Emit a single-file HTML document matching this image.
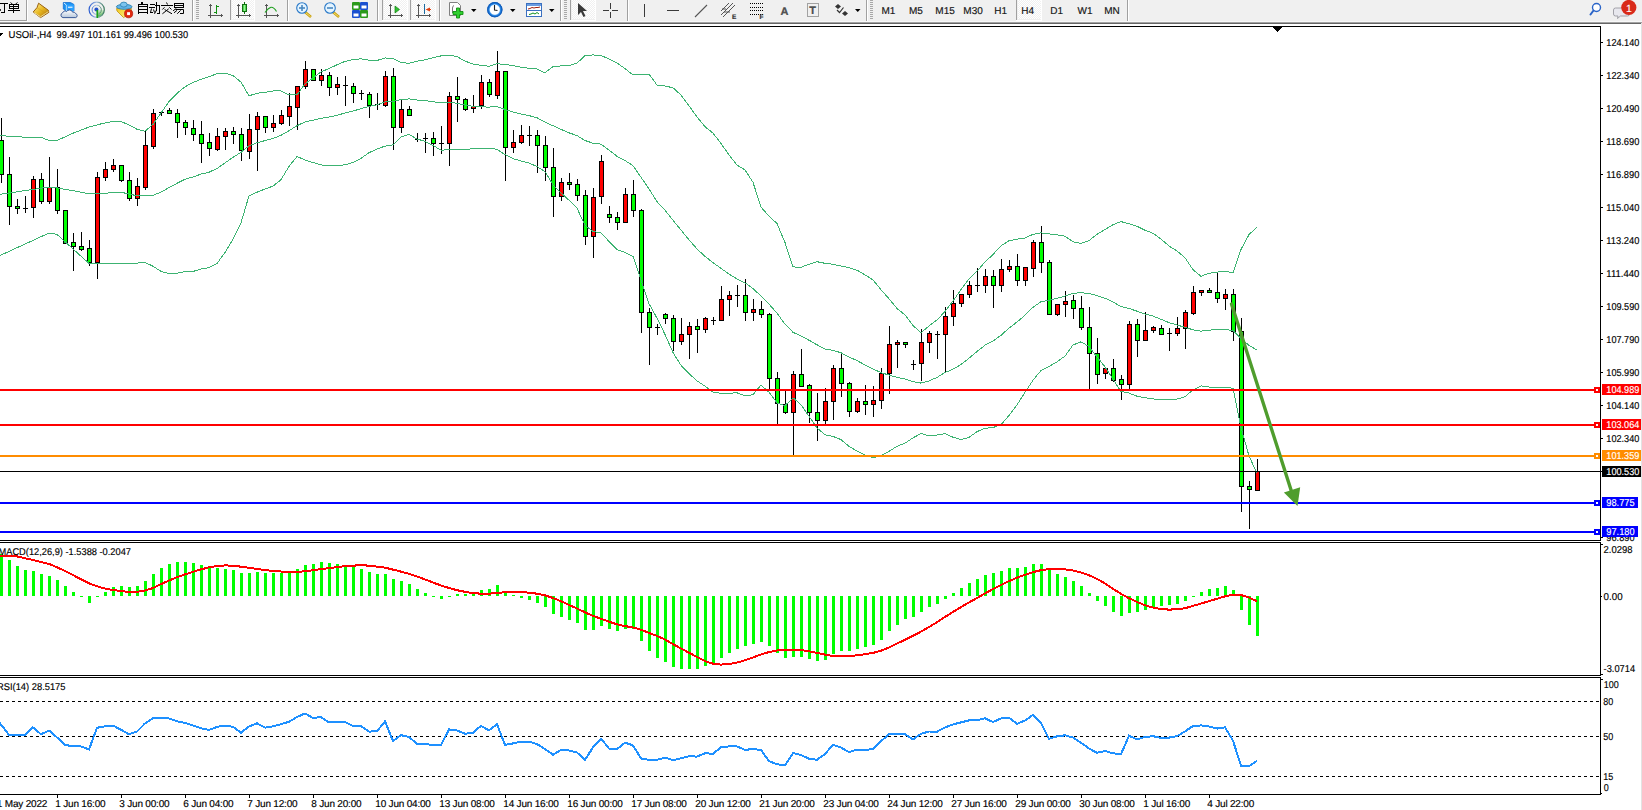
<!DOCTYPE html>
<html><head><meta charset="utf-8"><title>USOil H4</title>
<style>
html,body{margin:0;padding:0;background:#fff;}
body{width:1642px;height:810px;overflow:hidden;position:relative;font-family:"Liberation Sans", sans-serif;}
#tb{position:absolute;left:0;top:0;width:1642px;height:24px;}
#ch{position:absolute;left:0;top:0;}
text{text-rendering:geometricPrecision;stroke:#000;stroke-width:0.15;}
text[fill="#fff"]{stroke:#fff;}
</style></head><body>
<svg id="ch" width="1642" height="810" viewBox="0 0 1642 810">
<defs><pattern id="chk" width="2" height="2" patternUnits="userSpaceOnUse"><rect width="2" height="2" fill="#f0f0f0"/><rect width="1" height="1" fill="#fff"/><rect x="1" y="1" width="1" height="1" fill="#fff"/></pattern><linearGradient id="gold" x1="0" y1="0" x2="1" y2="1"><stop offset="0" stop-color="#fff2a0"/><stop offset="0.5" stop-color="#e8b820"/><stop offset="1" stop-color="#a86a10"/></linearGradient><linearGradient id="blu" x1="0" y1="0" x2="0" y2="1"><stop offset="0" stop-color="#4fb4ff"/><stop offset="1" stop-color="#0a6fd8"/></linearGradient><linearGradient id="cld" x1="0" y1="0" x2="0" y2="1"><stop offset="0" stop-color="#ffffff"/><stop offset="1" stop-color="#b8c8dc"/></linearGradient><radialGradient id="clk" cx="0.5" cy="0.5" r="0.5"><stop offset="0.6" stop-color="#ffffff"/><stop offset="0.75" stop-color="#2a8ae8"/><stop offset="1" stop-color="#0a50b0"/></radialGradient><linearGradient id="grn" x1="0" y1="0" x2="1" y2="0"><stop offset="0" stop-color="#1fa01f"/><stop offset="0.5" stop-color="#8dff8d"/><stop offset="1" stop-color="#1fa01f"/></linearGradient></defs>
<g shape-rendering="crispEdges">
<rect x="0" y="0" width="1642" height="21" fill="#f0f0f0"/>
<rect x="0" y="21" width="1642" height="1" fill="#f8f8f8"/>
<rect x="0" y="22" width="1642" height="1" fill="#a3a3a3"/>
<rect x="0" y="23" width="1642" height="1" fill="#666666"/>
<rect x="192" y="0" width="1" height="21" fill="#a0a0a0"/>
<rect x="193" y="0" width="1" height="21" fill="#ffffff"/>
<rect x="287" y="0" width="1" height="21" fill="#a0a0a0"/>
<rect x="288" y="0" width="1" height="21" fill="#ffffff"/>
<rect x="377" y="0" width="1" height="21" fill="#a0a0a0"/>
<rect x="378" y="0" width="1" height="21" fill="#ffffff"/>
<rect x="439" y="0" width="1" height="21" fill="#a0a0a0"/>
<rect x="440" y="0" width="1" height="21" fill="#ffffff"/>
<rect x="560" y="0" width="1" height="21" fill="#a0a0a0"/>
<rect x="561" y="0" width="1" height="21" fill="#ffffff"/>
<rect x="627" y="0" width="1" height="21" fill="#a0a0a0"/>
<rect x="628" y="0" width="1" height="21" fill="#ffffff"/>
<rect x="866" y="0" width="1" height="21" fill="#a0a0a0"/>
<rect x="867" y="0" width="1" height="21" fill="#ffffff"/>
<rect x="1127" y="0" width="1" height="21" fill="#a0a0a0"/>
<rect x="1128" y="0" width="1" height="21" fill="#ffffff"/>
<rect x="196" y="0" width="3" height="1" fill="#a8a8a8"/>
<rect x="196" y="2" width="3" height="1" fill="#a8a8a8"/>
<rect x="196" y="4" width="3" height="1" fill="#a8a8a8"/>
<rect x="196" y="6" width="3" height="1" fill="#a8a8a8"/>
<rect x="196" y="8" width="3" height="1" fill="#a8a8a8"/>
<rect x="196" y="10" width="3" height="1" fill="#a8a8a8"/>
<rect x="196" y="12" width="3" height="1" fill="#a8a8a8"/>
<rect x="196" y="14" width="3" height="1" fill="#a8a8a8"/>
<rect x="196" y="16" width="3" height="1" fill="#a8a8a8"/>
<rect x="196" y="18" width="3" height="1" fill="#a8a8a8"/>
<rect x="564" y="0" width="3" height="1" fill="#a8a8a8"/>
<rect x="564" y="2" width="3" height="1" fill="#a8a8a8"/>
<rect x="564" y="4" width="3" height="1" fill="#a8a8a8"/>
<rect x="564" y="6" width="3" height="1" fill="#a8a8a8"/>
<rect x="564" y="8" width="3" height="1" fill="#a8a8a8"/>
<rect x="564" y="10" width="3" height="1" fill="#a8a8a8"/>
<rect x="564" y="12" width="3" height="1" fill="#a8a8a8"/>
<rect x="564" y="14" width="3" height="1" fill="#a8a8a8"/>
<rect x="564" y="16" width="3" height="1" fill="#a8a8a8"/>
<rect x="564" y="18" width="3" height="1" fill="#a8a8a8"/>
<rect x="870" y="0" width="3" height="1" fill="#a8a8a8"/>
<rect x="870" y="2" width="3" height="1" fill="#a8a8a8"/>
<rect x="870" y="4" width="3" height="1" fill="#a8a8a8"/>
<rect x="870" y="6" width="3" height="1" fill="#a8a8a8"/>
<rect x="870" y="8" width="3" height="1" fill="#a8a8a8"/>
<rect x="870" y="10" width="3" height="1" fill="#a8a8a8"/>
<rect x="870" y="12" width="3" height="1" fill="#a8a8a8"/>
<rect x="870" y="14" width="3" height="1" fill="#a8a8a8"/>
<rect x="870" y="16" width="3" height="1" fill="#a8a8a8"/>
<rect x="870" y="18" width="3" height="1" fill="#a8a8a8"/>
<rect x="26" y="0" width="1" height="21" fill="#a0a0a0"/>
<rect x="0" y="20" width="27" height="1" fill="#a0a0a0"/>
<rect x="27" y="0" width="1" height="21" fill="#ffffff"/>
<rect x="230" y="0" width="1" height="20" fill="#a0a0a0"/>
<rect x="232" y="0" width="22" height="19" fill="url(#chk)"/>
<rect x="254" y="0" width="1" height="21" fill="#ffffff"/>
<rect x="230" y="20" width="25" height="1" fill="#ffffff"/>
<rect x="382" y="0" width="1" height="20" fill="#a0a0a0"/>
<rect x="384" y="0" width="23" height="19" fill="url(#chk)"/>
<rect x="407" y="0" width="1" height="21" fill="#ffffff"/>
<rect x="382" y="20" width="26" height="1" fill="#ffffff"/>
<rect x="410" y="0" width="1" height="20" fill="#a0a0a0"/>
<rect x="412" y="0" width="23" height="19" fill="url(#chk)"/>
<rect x="435" y="0" width="1" height="21" fill="#ffffff"/>
<rect x="410" y="20" width="26" height="1" fill="#ffffff"/>
<rect x="570" y="0" width="1" height="20" fill="#a0a0a0"/>
<rect x="572" y="0" width="23" height="19" fill="url(#chk)"/>
<rect x="595" y="0" width="1" height="21" fill="#ffffff"/>
<rect x="570" y="20" width="26" height="1" fill="#ffffff"/>
<rect x="1016" y="0" width="1" height="20" fill="#a0a0a0"/>
<rect x="1018" y="0" width="23" height="19" fill="url(#chk)"/>
<rect x="1041" y="0" width="1" height="21" fill="#ffffff"/>
<rect x="1016" y="20" width="26" height="1" fill="#ffffff"/>
<rect x="0" y="3" width="8" height="1" fill="#000"/>
<rect x="4" y="4" width="1" height="9" fill="#000"/>
<rect x="1" y="12" width="4" height="1" fill="#000"/>
<rect x="0" y="9" width="1" height="2" fill="#333"/>
<rect x="9" y="4" width="10" height="1" fill="#000"/>
<rect x="9" y="6" width="10" height="1" fill="#000"/>
<rect x="9" y="8" width="10" height="1" fill="#000"/>
<rect x="9" y="4" width="1" height="5" fill="#000"/>
<rect x="18" y="4" width="1" height="5" fill="#000"/>
<rect x="13" y="4" width="1" height="9" fill="#000"/>
<rect x="8" y="10" width="12" height="1" fill="#000"/>
</g>
<g stroke="#000" stroke-width="1" fill="none"><line x1="10.6" y1="2.4" x2="12.2" y2="4"/><line x1="17.4" y1="2.4" x2="15.8" y2="4"/></g>
<g shape-rendering="crispEdges">
<rect x="141" y="2" width="2" height="2" fill="#000"/>
<rect x="138" y="4" width="1" height="10" fill="#000"/>
<rect x="147" y="4" width="1" height="10" fill="#000"/>
<rect x="138" y="4" width="10" height="1" fill="#000"/>
<rect x="138" y="6" width="10" height="1" fill="#000"/>
<rect x="138" y="9" width="10" height="1" fill="#000"/>
<rect x="138" y="12" width="10" height="1" fill="#000"/>
<rect x="150" y="4" width="5" height="1" fill="#000"/>
<rect x="149" y="7" width="6" height="1" fill="#000"/>
<rect x="150" y="12" width="3" height="1" fill="#000"/>
<rect x="156" y="2" width="1" height="9" fill="#000"/>
<rect x="155" y="5" width="5" height="1" fill="#000"/>
<rect x="159" y="5" width="1" height="8" fill="#000"/>
<rect x="157" y="13" width="3" height="1" fill="#000"/>
</g>
<g stroke="#000" stroke-width="1.25" fill="none">
<line x1="151.5" y1="8.5" x2="150.5" y2="12.5" stroke="#000" stroke-width="1" />
<line x1="153.5" y1="9.5" x2="154.5" y2="12.5" stroke="#000" stroke-width="1" />
<line x1="156.5" y1="10" x2="154.5" y2="13.8" stroke="#000" stroke-width="1" />
<line x1="166.5" y1="2.5" x2="167.5" y2="4.5" stroke="#000" stroke-width="1" />
<line x1="161" y1="5.5" x2="173" y2="5.5" stroke="#000" stroke-width="1" />
<line x1="164.5" y1="7.3" x2="162.4" y2="9.5" stroke="#000" stroke-width="1" />
<line x1="169.3" y1="7.3" x2="171.5" y2="9.5" stroke="#000" stroke-width="1" />
<line x1="168.7" y1="8.8" x2="162.4" y2="13.8" stroke="#000" stroke-width="1" />
<line x1="164.6" y1="9.5" x2="172" y2="13.8" stroke="#000" stroke-width="1" />
<line x1="174.5" y1="3" x2="174.5" y2="8" stroke="#000" stroke-width="1" />
<line x1="183.5" y1="3" x2="183.5" y2="8" stroke="#000" stroke-width="1" />
<line x1="174.5" y1="3.5" x2="183.5" y2="3.5" stroke="#000" stroke-width="1" />
<line x1="174.5" y1="5.5" x2="183.5" y2="5.5" stroke="#000" stroke-width="1" />
<line x1="174.5" y1="7.5" x2="183.5" y2="7.5" stroke="#000" stroke-width="1" />
<line x1="175.5" y1="9.5" x2="183.5" y2="9.5" stroke="#000" stroke-width="1" />
<line x1="183.5" y1="9.5" x2="183.5" y2="13.5" stroke="#000" stroke-width="1" />
<line x1="180" y1="13.5" x2="183.5" y2="13.5" stroke="#000" stroke-width="1" />
<line x1="176.3" y1="8.4" x2="173.1" y2="10.8" stroke="#000" stroke-width="1" />
<line x1="177" y1="10.4" x2="174" y2="12.8" stroke="#000" stroke-width="1" />
<line x1="180.6" y1="10.4" x2="177.2" y2="13.8" stroke="#000" stroke-width="1" />
</g>
<polygon points="38.6,3.2 48.4,10.3 48.8,12.4 40.6,17.6 33.2,12 37,7.6" fill="url(#gold)" stroke="#9a6210" stroke-width="1"/>
<polyline points="34.2,12.6 40.6,16.8 48.4,11.6" fill="none" stroke="#f2e2a0" stroke-width="0.9"/>
<line x1="37" y1="7.6" x2="46.5" y2="13.8" stroke="#c89018" stroke-width="0.6" opacity="0.6"/>
<polygon points="63.3,2.5 70.5,2.5 74,4.5 74,11 66,11 63.3,9" fill="#1890f0" stroke="#1a70d0" stroke-width="0.8"/>
<polygon points="66,4.5 74,4.5 74,11 66,11" fill="#2aa0ff"/><line x1="64" y1="3" x2="66.3" y2="5" stroke="#e8f4ff" stroke-width="0.9"/><line x1="66.3" y1="5" x2="66.3" y2="11" stroke="#e8f4ff" stroke-width="0.7"/>
<rect x="68" y="6.6" width="4.5" height="1.3" fill="#d8eeff"/>
<path d="M63,17.6 A2.5,2.5 0 0 1 62.6,12.8 A2.6,2.6 0 0 1 66.6,11.6 A3.3,3.3 0 0 1 72.6,12.2 A2.4,2.4 0 0 1 75.6,13.6 A2.1,2.1 0 0 1 75.8,17.6 Z" fill="url(#cld)" stroke="#3a5a98" stroke-width="1"/>
<defs><linearGradient id="rg" x1="0" y1="0" x2="1" y2="0"><stop offset="0" stop-color="#2a5cd0"/><stop offset="0.5" stop-color="#a8c0e0"/><stop offset="1" stop-color="#3a7a5a"/></linearGradient><linearGradient id="sg" x1="0" y1="0" x2="0" y2="1"><stop offset="0" stop-color="#d8ecd0"/><stop offset="1" stop-color="#38a838"/></linearGradient></defs>
<path d="M96.7,9.8 L96.7,17.8 A8,8 0 0 0 104.7,9.8 Z" fill="url(#sg)"/>
<circle cx="96.7" cy="9.8" r="7.6" fill="none" stroke="url(#rg)" stroke-width="1.2"/>
<circle cx="96.7" cy="9.8" r="4.6" fill="none" stroke="url(#rg)" stroke-width="1" opacity="0.8"/>
<circle cx="96.4" cy="9.6" r="2" fill="#2050c8"/><rect x="96.5" y="10" width="1.6" height="8" fill="#18a018"/>
<defs><linearGradient id="yb" x1="0" y1="0" x2="1" y2="1"><stop offset="0" stop-color="#f0c820"/><stop offset="1" stop-color="#fff890"/></linearGradient></defs>
<polygon points="116.6,8.4 131.4,8.4 131,12 123.6,17.6 117,11" fill="url(#yb)" stroke="#c89a18" stroke-width="0.9"/>
<ellipse cx="124.2" cy="6.8" rx="7.8" ry="2.5" fill="#62b4e8" stroke="#2a80b0" stroke-width="0.9"/>
<ellipse cx="123.8" cy="4.6" rx="3.4" ry="2.5" fill="#7cc4ee" stroke="#2a80b0" stroke-width="0.8"/>
<circle cx="128.6" cy="13.7" r="4.1" fill="#e02a10" stroke="#b01808" stroke-width="0.7"/><rect x="127.1" y="12.2" width="2.9" height="2.9" fill="#fff"/>
<g fill="#555" shape-rendering="crispEdges"><rect x="210" y="4" width="1" height="14"/><rect x="208" y="15" width="15" height="1"/><rect x="209" y="5" width="3" height="1"/><rect x="221" y="14" width="1" height="3"/></g>
<g fill="#555" shape-rendering="crispEdges"><rect x="238" y="4" width="1" height="14"/><rect x="236" y="15" width="15" height="1"/><rect x="237" y="5" width="3" height="1"/><rect x="249" y="14" width="1" height="3"/></g>
<g fill="#555" shape-rendering="crispEdges"><rect x="266" y="4" width="1" height="14"/><rect x="264" y="15" width="15" height="1"/><rect x="265" y="5" width="3" height="1"/><rect x="277" y="14" width="1" height="3"/></g>
<g fill="#555" shape-rendering="crispEdges"><rect x="390" y="4" width="1" height="14"/><rect x="388" y="15" width="15" height="1"/><rect x="389" y="5" width="3" height="1"/><rect x="401" y="14" width="1" height="3"/></g>
<g fill="#555" shape-rendering="crispEdges"><rect x="418" y="4" width="1" height="14"/><rect x="416" y="15" width="15" height="1"/><rect x="417" y="5" width="3" height="1"/><rect x="429" y="14" width="1" height="3"/></g>
<g fill="#109010" shape-rendering="crispEdges"><rect x="216" y="5" width="1" height="9"/><rect x="217" y="6" width="2" height="1"/><rect x="214" y="12" width="2" height="1"/></g>
<rect x="244" y="2" width="1" height="12" fill="#107010" shape-rendering="crispEdges"/><rect x="242.5" y="4.5" width="4" height="7" fill="url(#grn)" stroke="#107010" stroke-width="1"/>
<path d="M265,12.5 Q268,8 271,7.2 Q274,7 276.5,11.5" fill="none" stroke="#20a020" stroke-width="1.1"/>
<polygon points="395,6 399.5,9.5 395,13" fill="#30c030" stroke="#108010" stroke-width="0.7"/>
<rect x="424" y="4" width="1" height="10" fill="#1a6aa0"/><polygon points="425.5,9.5 430,7.5 430,11.5" fill="#e04010"/><rect x="427" y="9" width="4" height="1" fill="#e04010"/>
<line x1="305" y1="12" x2="311" y2="17" stroke="#c8a010" stroke-width="2.6"/>
<line x1="305.5" y1="12.5" x2="310.5" y2="16.6" stroke="#f4e070" stroke-width="1"/>
<circle cx="302" cy="8" r="5.3" fill="#e4f4ff" stroke="#2878c8" stroke-width="1.1"/>
<rect x="299" y="7.2" width="6" height="1.6" fill="#4a88c0"/>
<rect x="301.2" y="5" width="1.6" height="6" fill="#4a88c0"/>
<line x1="333" y1="12" x2="339" y2="17" stroke="#c8a010" stroke-width="2.6"/>
<line x1="333.5" y1="12.5" x2="338.5" y2="16.6" stroke="#f4e070" stroke-width="1"/>
<circle cx="330" cy="8" r="5.3" fill="#e4f4ff" stroke="#2878c8" stroke-width="1.1"/>
<rect x="327" y="7.2" width="6" height="1.6" fill="#4a88c0"/>
<rect x="352" y="2" width="8" height="8" fill="#2a9a1a" rx="1"/><rect x="353.5" y="5.5" width="5" height="3" fill="#fff"/>
<rect x="360" y="2" width="8" height="8" fill="#1a50d0" rx="1"/><rect x="361.5" y="5.5" width="5" height="3" fill="#fff"/>
<rect x="352" y="10" width="8" height="8" fill="#1a50d0" rx="1"/><rect x="353.5" y="13.5" width="5" height="3" fill="#fff"/>
<rect x="360" y="10" width="8" height="8" fill="#2a9a1a" rx="1"/><rect x="361.5" y="13.5" width="5" height="3" fill="#fff"/>
<path d="M449.5,2.5 L457.5,2.5 L460.5,5.5 L460.5,15.5 L449.5,15.5 Z" fill="#fff" stroke="#808080" stroke-width="1"/>
<path d="M454,5.5 Q452.5,6 452.5,8 L452.5,13" fill="none" stroke="#555" stroke-width="0.8"/>
<path d="M456.5,8 h3 v3.5 h3.5 v3 h-3.5 v3.5 h-3 v-3.5 h-3.5 v-3 h3.5 z" fill="#30d030" stroke="#109010" stroke-width="0.9"/>
<polygon points="471,9 476.5,9 473.75,12" fill="#000"/>
<polygon points="510,9 515.5,9 512.75,12" fill="#000"/>
<polygon points="549,9 554.5,9 551.75,12" fill="#000"/>
<polygon points="855,9 860.5,9 857.75,12" fill="#000"/>
<circle cx="494.8" cy="9.7" r="7.6" fill="url(#clk)"/><circle cx="494.8" cy="9.7" r="7.2" fill="none" stroke="#1060c0" stroke-width="1"/>
<path d="M494.5,5 L494.5,10 L497.5,10.5" fill="none" stroke="#222" stroke-width="1.1"/>
<rect x="526.5" y="3.5" width="15" height="13" fill="#fff" stroke="#3a70c0" stroke-width="1"/><rect x="527" y="4" width="14" height="2" fill="#6a9ce0"/><rect x="527" y="10" width="14" height="1" fill="#3a70c0"/>
<polyline points="528,9 530,8.5 532,7.5 534,8 536,7.5 538,7.5 540,7" fill="none" stroke="#a02010" stroke-width="1"/>
<polyline points="529,14.5 531,14 533,13 535,14 537,12.5 539,14" fill="none" stroke="#10901a" stroke-width="1"/>
<path d="M578,3 L578,15 L581,12 L583.5,17 L585.5,16 L583,11 L587,11 Z" fill="#3a3a3a"/>
<g fill="#3a3a3a" shape-rendering="crispEdges"><rect x="603" y="10" width="6" height="1"/><rect x="612" y="10" width="6" height="1"/><rect x="610" y="3" width="1" height="6"/><rect x="610" y="12" width="1" height="6"/><rect x="644" y="4" width="1" height="13"/><rect x="667" y="10" width="12" height="1"/></g>
<line x1="695" y1="17" x2="707" y2="5" stroke="#555" stroke-width="1.1"/>
<g stroke="#555" stroke-width="1"><line x1="721" y1="15" x2="733" y2="3"/><line x1="723" y1="17" x2="735" y2="5"/><line x1="721" y1="11" x2="729" y2="3"/><line x1="722" y1="9" x2="726" y2="9"/><line x1="724" y1="12" x2="730" y2="12"/></g>
<text x="732" y="19" font-family='"Liberation Sans", sans-serif' font-size="6.5" font-weight="bold" fill="#333">E</text>
<g fill="#555" shape-rendering="crispEdges">
<rect x="750" y="3" width="1" height="1" fill="#000"/>
<rect x="752" y="3" width="1" height="1" fill="#000"/>
<rect x="754" y="3" width="1" height="1" fill="#000"/>
<rect x="756" y="3" width="1" height="1" fill="#000"/>
<rect x="758" y="3" width="1" height="1" fill="#000"/>
<rect x="760" y="3" width="1" height="1" fill="#000"/>
<rect x="762" y="3" width="1" height="1" fill="#000"/>
<rect x="750" y="7" width="1" height="1" fill="#000"/>
<rect x="752" y="7" width="1" height="1" fill="#000"/>
<rect x="754" y="7" width="1" height="1" fill="#000"/>
<rect x="756" y="7" width="1" height="1" fill="#000"/>
<rect x="758" y="7" width="1" height="1" fill="#000"/>
<rect x="760" y="7" width="1" height="1" fill="#000"/>
<rect x="762" y="7" width="1" height="1" fill="#000"/>
<rect x="750" y="10" width="1" height="1" fill="#000"/>
<rect x="752" y="10" width="1" height="1" fill="#000"/>
<rect x="754" y="10" width="1" height="1" fill="#000"/>
<rect x="756" y="10" width="1" height="1" fill="#000"/>
<rect x="758" y="10" width="1" height="1" fill="#000"/>
<rect x="760" y="10" width="1" height="1" fill="#000"/>
<rect x="762" y="10" width="1" height="1" fill="#000"/>
<rect x="750" y="14" width="1" height="1" fill="#000"/>
<rect x="752" y="14" width="1" height="1" fill="#000"/>
<rect x="754" y="14" width="1" height="1" fill="#000"/>
<rect x="756" y="14" width="1" height="1" fill="#000"/>
<rect x="758" y="14" width="1" height="1" fill="#000"/>
<rect x="760" y="14" width="1" height="1" fill="#000"/>
<rect x="762" y="14" width="1" height="1" fill="#000"/>
</g>
<text x="759.5" y="19" font-family='"Liberation Sans", sans-serif' font-size="6.5" font-weight="bold" fill="#333">F</text>
<text x="780.5" y="14.5" font-family='"Liberation Sans", sans-serif' font-size="11" font-weight="bold" fill="#555">A</text>
<rect x="807.5" y="3.5" width="11" height="13" fill="none" stroke="#555" stroke-width="1" stroke-dasharray="1 1"/>
<text x="809.3" y="14" font-family='"Liberation Sans", sans-serif' font-size="11" font-weight="bold" fill="#555">T</text>
<polygon points="838,4 841,6.5 838,9 835,6.5" fill="#333"/><polygon points="845,11 848,13.5 845,16 842,13.5" fill="#333"/>
<polyline points="837,10 839.5,12.5 843.5,7.5" fill="none" stroke="#333" stroke-width="1.2"/>
<g font-family='"Liberation Sans", sans-serif' font-size="10" fill="#1a1a1a">
<text x="881.5" y="14">M1</text>
<text x="909" y="14">M5</text>
<text x="935.3" y="14">M15</text>
<text x="963.3" y="14">M30</text>
<text x="994.2" y="14">H1</text>
<text x="1021.2" y="14">H4</text>
<text x="1050.2" y="14">D1</text>
<text x="1077.6" y="14">W1</text>
<text x="1104.2" y="14">MN</text>
</g>
<circle cx="1596.5" cy="7.5" r="4" fill="#fff" stroke="#2a64c8" stroke-width="1.4"/><line x1="1593.5" y1="10.5" x2="1590.5" y2="14.5" stroke="#2a64c8" stroke-width="2" stroke-linecap="round"/>
<path d="M1615.5,8 h12 a2,2 0 0 1 2,2 v4 a2,2 0 0 1 -2,2 h-7 l-3,2.5 l0.5,-2.5 h-2.5 a2,2 0 0 1 -2,-2 v-4 a2,2 0 0 1 2,-2 z" fill="#e8e8ee" stroke="#9a9aa0" stroke-width="0.9"/>
<circle cx="1628.8" cy="7.5" r="7.6" fill="#d92b1a"/>
<text x="1626" y="11.5" font-family='"Liberation Sans", sans-serif' font-size="10.5" fill="#fff">1</text>
<g shape-rendering="crispEdges">
<rect x="0" y="24" width="1641" height="786" fill="#fff"/>
<rect x="1641" y="23" width="1" height="787" fill="#e3e3e3"/>
<rect x="0" y="26" width="1601" height="1" fill="#000"/>
<rect x="1600" y="26" width="1" height="515" fill="#000"/>
<rect x="0" y="540" width="1601" height="1" fill="#000"/>
<rect x="0" y="542" width="1601" height="1" fill="#000"/>
<rect x="1600" y="542" width="1" height="134" fill="#000"/>
<rect x="0" y="675" width="1601" height="1" fill="#000"/>
<rect x="0" y="677" width="1601" height="1" fill="#000"/>
<rect x="1600" y="677" width="1" height="118" fill="#000"/>
<rect x="0" y="794" width="1601" height="1" fill="#000"/>
</g>
<g shape-rendering="crispEdges">
<rect x="1" y="118" width="1" height="65" fill="#000"/>
<rect x="-1" y="140" width="5" height="35" fill="#000"/>
<rect x="0" y="141" width="3" height="33" fill="#00ff00"/>
<rect x="9" y="157" width="1" height="68" fill="#000"/>
<rect x="7" y="174" width="5" height="33" fill="#000"/>
<rect x="8" y="175" width="3" height="31" fill="#00ff00"/>
<rect x="17" y="199" width="1" height="15" fill="#000"/>
<rect x="15" y="206" width="5" height="3" fill="#000"/>
<rect x="16" y="207" width="3" height="1" fill="#00ff00"/>
<rect x="25" y="196" width="1" height="17" fill="#000"/>
<rect x="23" y="208" width="5" height="1" fill="#000"/>
<rect x="33" y="176" width="1" height="42" fill="#000"/>
<rect x="31" y="179" width="5" height="29" fill="#000"/>
<rect x="32" y="180" width="3" height="27" fill="#ff0000"/>
<rect x="41" y="173" width="1" height="31" fill="#000"/>
<rect x="39" y="179" width="5" height="23" fill="#000"/>
<rect x="40" y="180" width="3" height="21" fill="#00ff00"/>
<rect x="49" y="157" width="1" height="47" fill="#000"/>
<rect x="47" y="187" width="5" height="15" fill="#000"/>
<rect x="48" y="188" width="3" height="13" fill="#ff0000"/>
<rect x="57" y="169" width="1" height="45" fill="#000"/>
<rect x="55" y="187" width="5" height="24" fill="#000"/>
<rect x="56" y="188" width="3" height="22" fill="#00ff00"/>
<rect x="65" y="210" width="1" height="34" fill="#000"/>
<rect x="63" y="210" width="5" height="34" fill="#000"/>
<rect x="64" y="211" width="3" height="32" fill="#00ff00"/>
<rect x="73" y="233" width="1" height="38" fill="#000"/>
<rect x="71" y="242" width="5" height="5" fill="#000"/>
<rect x="72" y="243" width="3" height="3" fill="#00ff00"/>
<rect x="81" y="232" width="1" height="19" fill="#000"/>
<rect x="79" y="246" width="5" height="4" fill="#000"/>
<rect x="80" y="247" width="3" height="2" fill="#00ff00"/>
<rect x="89" y="240" width="1" height="26" fill="#000"/>
<rect x="87" y="248" width="5" height="15" fill="#000"/>
<rect x="88" y="249" width="3" height="13" fill="#00ff00"/>
<rect x="97" y="172" width="1" height="107" fill="#000"/>
<rect x="95" y="177" width="5" height="86" fill="#000"/>
<rect x="96" y="178" width="3" height="84" fill="#ff0000"/>
<rect x="105" y="162" width="1" height="19" fill="#000"/>
<rect x="103" y="169" width="5" height="9" fill="#000"/>
<rect x="104" y="170" width="3" height="7" fill="#ff0000"/>
<rect x="113" y="159" width="1" height="13" fill="#000"/>
<rect x="111" y="165" width="5" height="5" fill="#000"/>
<rect x="112" y="166" width="3" height="3" fill="#ff0000"/>
<rect x="121" y="165" width="1" height="17" fill="#000"/>
<rect x="119" y="165" width="5" height="16" fill="#000"/>
<rect x="120" y="166" width="3" height="14" fill="#00ff00"/>
<rect x="129" y="172" width="1" height="29" fill="#000"/>
<rect x="127" y="180" width="5" height="19" fill="#000"/>
<rect x="128" y="181" width="3" height="17" fill="#00ff00"/>
<rect x="137" y="178" width="1" height="28" fill="#000"/>
<rect x="135" y="186" width="5" height="13" fill="#000"/>
<rect x="136" y="187" width="3" height="11" fill="#ff0000"/>
<rect x="145" y="130" width="1" height="60" fill="#000"/>
<rect x="143" y="145" width="5" height="43" fill="#000"/>
<rect x="144" y="146" width="3" height="41" fill="#ff0000"/>
<rect x="153" y="109" width="1" height="40" fill="#000"/>
<rect x="151" y="113" width="5" height="34" fill="#000"/>
<rect x="152" y="114" width="3" height="32" fill="#ff0000"/>
<rect x="161" y="111" width="1" height="5" fill="#000"/>
<rect x="159" y="112" width="5" height="1" fill="#000"/>
<rect x="169" y="108" width="1" height="6" fill="#000"/>
<rect x="167" y="110" width="5" height="4" fill="#000"/>
<rect x="168" y="111" width="3" height="2" fill="#00ff00"/>
<rect x="177" y="109" width="1" height="29" fill="#000"/>
<rect x="175" y="113" width="5" height="10" fill="#000"/>
<rect x="176" y="114" width="3" height="8" fill="#00ff00"/>
<rect x="185" y="120" width="1" height="15" fill="#000"/>
<rect x="183" y="122" width="5" height="6" fill="#000"/>
<rect x="184" y="123" width="3" height="4" fill="#00ff00"/>
<rect x="193" y="120" width="1" height="21" fill="#000"/>
<rect x="191" y="128" width="5" height="7" fill="#000"/>
<rect x="192" y="129" width="3" height="5" fill="#00ff00"/>
<rect x="201" y="121" width="1" height="42" fill="#000"/>
<rect x="199" y="134" width="5" height="10" fill="#000"/>
<rect x="200" y="135" width="3" height="8" fill="#00ff00"/>
<rect x="209" y="133" width="1" height="23" fill="#000"/>
<rect x="207" y="142" width="5" height="7" fill="#000"/>
<rect x="208" y="143" width="3" height="5" fill="#00ff00"/>
<rect x="217" y="128" width="1" height="23" fill="#000"/>
<rect x="215" y="136" width="5" height="14" fill="#000"/>
<rect x="216" y="137" width="3" height="12" fill="#ff0000"/>
<rect x="225" y="128" width="1" height="22" fill="#000"/>
<rect x="223" y="131" width="5" height="6" fill="#000"/>
<rect x="224" y="132" width="3" height="4" fill="#ff0000"/>
<rect x="233" y="127" width="1" height="17" fill="#000"/>
<rect x="231" y="131" width="5" height="4" fill="#000"/>
<rect x="232" y="132" width="3" height="2" fill="#00ff00"/>
<rect x="241" y="128" width="1" height="33" fill="#000"/>
<rect x="239" y="134" width="5" height="17" fill="#000"/>
<rect x="240" y="135" width="3" height="15" fill="#00ff00"/>
<rect x="249" y="114" width="1" height="45" fill="#000"/>
<rect x="247" y="129" width="5" height="23" fill="#000"/>
<rect x="248" y="130" width="3" height="21" fill="#ff0000"/>
<rect x="257" y="112" width="1" height="59" fill="#000"/>
<rect x="255" y="116" width="5" height="14" fill="#000"/>
<rect x="256" y="117" width="3" height="12" fill="#ff0000"/>
<rect x="265" y="116" width="1" height="17" fill="#000"/>
<rect x="263" y="116" width="5" height="12" fill="#000"/>
<rect x="264" y="117" width="3" height="10" fill="#00ff00"/>
<rect x="273" y="115" width="1" height="17" fill="#000"/>
<rect x="271" y="123" width="5" height="5" fill="#000"/>
<rect x="272" y="124" width="3" height="3" fill="#ff0000"/>
<rect x="281" y="110" width="1" height="15" fill="#000"/>
<rect x="279" y="115" width="5" height="9" fill="#000"/>
<rect x="280" y="116" width="3" height="7" fill="#ff0000"/>
<rect x="289" y="93" width="1" height="33" fill="#000"/>
<rect x="287" y="106" width="5" height="11" fill="#000"/>
<rect x="288" y="107" width="3" height="9" fill="#ff0000"/>
<rect x="297" y="86" width="1" height="44" fill="#000"/>
<rect x="295" y="86" width="5" height="22" fill="#000"/>
<rect x="296" y="87" width="3" height="20" fill="#ff0000"/>
<rect x="305" y="61" width="1" height="28" fill="#000"/>
<rect x="303" y="69" width="5" height="18" fill="#000"/>
<rect x="304" y="70" width="3" height="16" fill="#ff0000"/>
<rect x="313" y="69" width="1" height="12" fill="#000"/>
<rect x="311" y="69" width="5" height="12" fill="#000"/>
<rect x="312" y="70" width="3" height="10" fill="#00ff00"/>
<rect x="321" y="69" width="1" height="17" fill="#000"/>
<rect x="319" y="75" width="5" height="6" fill="#000"/>
<rect x="320" y="76" width="3" height="4" fill="#ff0000"/>
<rect x="329" y="72" width="1" height="24" fill="#000"/>
<rect x="327" y="75" width="5" height="13" fill="#000"/>
<rect x="328" y="76" width="3" height="11" fill="#00ff00"/>
<rect x="337" y="77" width="1" height="18" fill="#000"/>
<rect x="335" y="84" width="5" height="4" fill="#000"/>
<rect x="336" y="85" width="3" height="2" fill="#ff0000"/>
<rect x="345" y="76" width="1" height="30" fill="#000"/>
<rect x="343" y="85" width="5" height="1" fill="#000"/>
<rect x="353" y="83" width="1" height="20" fill="#000"/>
<rect x="351" y="86" width="5" height="8" fill="#000"/>
<rect x="352" y="87" width="3" height="6" fill="#00ff00"/>
<rect x="361" y="90" width="1" height="10" fill="#000"/>
<rect x="359" y="93" width="5" height="1" fill="#000"/>
<rect x="369" y="92" width="1" height="26" fill="#000"/>
<rect x="367" y="94" width="5" height="12" fill="#000"/>
<rect x="368" y="95" width="3" height="10" fill="#00ff00"/>
<rect x="377" y="93" width="1" height="17" fill="#000"/>
<rect x="375" y="104" width="5" height="1" fill="#000"/>
<rect x="385" y="71" width="1" height="36" fill="#000"/>
<rect x="383" y="76" width="5" height="30" fill="#000"/>
<rect x="384" y="77" width="3" height="28" fill="#ff0000"/>
<rect x="393" y="68" width="1" height="82" fill="#000"/>
<rect x="391" y="76" width="5" height="52" fill="#000"/>
<rect x="392" y="77" width="3" height="50" fill="#00ff00"/>
<rect x="401" y="99" width="1" height="34" fill="#000"/>
<rect x="399" y="109" width="5" height="19" fill="#000"/>
<rect x="400" y="110" width="3" height="17" fill="#ff0000"/>
<rect x="409" y="106" width="1" height="10" fill="#000"/>
<rect x="407" y="109" width="5" height="7" fill="#000"/>
<rect x="408" y="110" width="3" height="5" fill="#00ff00"/>
<rect x="417" y="133" width="1" height="9" fill="#000"/>
<rect x="415" y="139" width="5" height="1" fill="#000"/>
<rect x="425" y="133" width="1" height="20" fill="#000"/>
<rect x="423" y="138" width="5" height="1" fill="#000"/>
<rect x="433" y="132" width="1" height="24" fill="#000"/>
<rect x="431" y="138" width="5" height="6" fill="#000"/>
<rect x="432" y="139" width="3" height="4" fill="#00ff00"/>
<rect x="441" y="126" width="1" height="28" fill="#000"/>
<rect x="439" y="143" width="5" height="1" fill="#000"/>
<rect x="449" y="92" width="1" height="74" fill="#000"/>
<rect x="447" y="96" width="5" height="48" fill="#000"/>
<rect x="448" y="97" width="3" height="46" fill="#ff0000"/>
<rect x="457" y="77" width="1" height="45" fill="#000"/>
<rect x="455" y="96" width="5" height="4" fill="#000"/>
<rect x="456" y="97" width="3" height="2" fill="#00ff00"/>
<rect x="465" y="98" width="1" height="13" fill="#000"/>
<rect x="463" y="99" width="5" height="11" fill="#000"/>
<rect x="464" y="100" width="3" height="9" fill="#00ff00"/>
<rect x="473" y="95" width="1" height="18" fill="#000"/>
<rect x="471" y="106" width="5" height="3" fill="#000"/>
<rect x="472" y="107" width="3" height="1" fill="#ff0000"/>
<rect x="481" y="75" width="1" height="34" fill="#000"/>
<rect x="479" y="82" width="5" height="24" fill="#000"/>
<rect x="480" y="83" width="3" height="22" fill="#ff0000"/>
<rect x="489" y="79" width="1" height="18" fill="#000"/>
<rect x="487" y="82" width="5" height="13" fill="#000"/>
<rect x="488" y="83" width="3" height="11" fill="#00ff00"/>
<rect x="497" y="51" width="1" height="48" fill="#000"/>
<rect x="495" y="71" width="5" height="25" fill="#000"/>
<rect x="496" y="72" width="3" height="23" fill="#ff0000"/>
<rect x="505" y="71" width="1" height="110" fill="#000"/>
<rect x="503" y="71" width="5" height="77" fill="#000"/>
<rect x="504" y="72" width="3" height="75" fill="#00ff00"/>
<rect x="513" y="130" width="1" height="23" fill="#000"/>
<rect x="511" y="142" width="5" height="6" fill="#000"/>
<rect x="512" y="143" width="3" height="4" fill="#ff0000"/>
<rect x="521" y="125" width="1" height="19" fill="#000"/>
<rect x="519" y="135" width="5" height="8" fill="#000"/>
<rect x="520" y="136" width="3" height="6" fill="#ff0000"/>
<rect x="529" y="126" width="1" height="20" fill="#000"/>
<rect x="527" y="135" width="5" height="1" fill="#000"/>
<rect x="537" y="130" width="1" height="43" fill="#000"/>
<rect x="535" y="135" width="5" height="11" fill="#000"/>
<rect x="536" y="136" width="3" height="9" fill="#00ff00"/>
<rect x="545" y="136" width="1" height="45" fill="#000"/>
<rect x="543" y="145" width="5" height="23" fill="#000"/>
<rect x="544" y="146" width="3" height="21" fill="#00ff00"/>
<rect x="553" y="148" width="1" height="69" fill="#000"/>
<rect x="551" y="167" width="5" height="30" fill="#000"/>
<rect x="552" y="168" width="3" height="28" fill="#00ff00"/>
<rect x="561" y="178" width="1" height="23" fill="#000"/>
<rect x="559" y="182" width="5" height="15" fill="#000"/>
<rect x="560" y="183" width="3" height="13" fill="#ff0000"/>
<rect x="569" y="173" width="1" height="17" fill="#000"/>
<rect x="567" y="182" width="5" height="3" fill="#000"/>
<rect x="568" y="183" width="3" height="1" fill="#00ff00"/>
<rect x="577" y="179" width="1" height="22" fill="#000"/>
<rect x="575" y="184" width="5" height="12" fill="#000"/>
<rect x="576" y="185" width="3" height="10" fill="#00ff00"/>
<rect x="585" y="190" width="1" height="55" fill="#000"/>
<rect x="583" y="195" width="5" height="42" fill="#000"/>
<rect x="584" y="196" width="3" height="40" fill="#00ff00"/>
<rect x="593" y="188" width="1" height="70" fill="#000"/>
<rect x="591" y="197" width="5" height="40" fill="#000"/>
<rect x="592" y="198" width="3" height="38" fill="#ff0000"/>
<rect x="601" y="155" width="1" height="49" fill="#000"/>
<rect x="599" y="161" width="5" height="36" fill="#000"/>
<rect x="600" y="162" width="3" height="34" fill="#ff0000"/>
<rect x="609" y="206" width="1" height="17" fill="#000"/>
<rect x="607" y="214" width="5" height="4" fill="#000"/>
<rect x="608" y="215" width="3" height="2" fill="#00ff00"/>
<rect x="617" y="212" width="1" height="18" fill="#000"/>
<rect x="615" y="217" width="5" height="6" fill="#000"/>
<rect x="616" y="218" width="3" height="4" fill="#00ff00"/>
<rect x="625" y="188" width="1" height="35" fill="#000"/>
<rect x="623" y="194" width="5" height="29" fill="#000"/>
<rect x="624" y="195" width="3" height="27" fill="#ff0000"/>
<rect x="633" y="180" width="1" height="37" fill="#000"/>
<rect x="631" y="194" width="5" height="17" fill="#000"/>
<rect x="632" y="195" width="3" height="15" fill="#00ff00"/>
<rect x="641" y="209" width="1" height="124" fill="#000"/>
<rect x="639" y="210" width="5" height="103" fill="#000"/>
<rect x="640" y="211" width="3" height="101" fill="#00ff00"/>
<rect x="649" y="308" width="1" height="57" fill="#000"/>
<rect x="647" y="312" width="5" height="16" fill="#000"/>
<rect x="648" y="313" width="3" height="14" fill="#00ff00"/>
<rect x="657" y="324" width="1" height="11" fill="#000"/>
<rect x="655" y="327" width="5" height="1" fill="#000"/>
<rect x="665" y="313" width="1" height="11" fill="#000"/>
<rect x="663" y="314" width="5" height="5" fill="#000"/>
<rect x="664" y="315" width="3" height="3" fill="#00ff00"/>
<rect x="673" y="315" width="1" height="36" fill="#000"/>
<rect x="671" y="318" width="5" height="24" fill="#000"/>
<rect x="672" y="319" width="3" height="22" fill="#00ff00"/>
<rect x="681" y="318" width="1" height="27" fill="#000"/>
<rect x="679" y="334" width="5" height="8" fill="#000"/>
<rect x="680" y="335" width="3" height="6" fill="#ff0000"/>
<rect x="689" y="322" width="1" height="37" fill="#000"/>
<rect x="687" y="326" width="5" height="9" fill="#000"/>
<rect x="688" y="327" width="3" height="7" fill="#ff0000"/>
<rect x="697" y="319" width="1" height="34" fill="#000"/>
<rect x="695" y="326" width="5" height="4" fill="#000"/>
<rect x="696" y="327" width="3" height="2" fill="#00ff00"/>
<rect x="705" y="317" width="1" height="16" fill="#000"/>
<rect x="703" y="318" width="5" height="12" fill="#000"/>
<rect x="704" y="319" width="3" height="10" fill="#ff0000"/>
<rect x="713" y="317" width="1" height="8" fill="#000"/>
<rect x="711" y="320" width="5" height="1" fill="#000"/>
<rect x="721" y="286" width="1" height="35" fill="#000"/>
<rect x="719" y="299" width="5" height="22" fill="#000"/>
<rect x="720" y="300" width="3" height="20" fill="#ff0000"/>
<rect x="729" y="291" width="1" height="25" fill="#000"/>
<rect x="727" y="295" width="5" height="5" fill="#000"/>
<rect x="728" y="296" width="3" height="3" fill="#ff0000"/>
<rect x="737" y="285" width="1" height="22" fill="#000"/>
<rect x="735" y="295" width="5" height="1" fill="#000"/>
<rect x="745" y="279" width="1" height="42" fill="#000"/>
<rect x="743" y="295" width="5" height="18" fill="#000"/>
<rect x="744" y="296" width="3" height="16" fill="#00ff00"/>
<rect x="753" y="299" width="1" height="22" fill="#000"/>
<rect x="751" y="309" width="5" height="4" fill="#000"/>
<rect x="752" y="310" width="3" height="2" fill="#ff0000"/>
<rect x="761" y="301" width="1" height="17" fill="#000"/>
<rect x="759" y="309" width="5" height="6" fill="#000"/>
<rect x="760" y="310" width="3" height="4" fill="#00ff00"/>
<rect x="769" y="313" width="1" height="78" fill="#000"/>
<rect x="767" y="314" width="5" height="65" fill="#000"/>
<rect x="768" y="315" width="3" height="63" fill="#00ff00"/>
<rect x="777" y="372" width="1" height="53" fill="#000"/>
<rect x="775" y="378" width="5" height="26" fill="#000"/>
<rect x="776" y="379" width="3" height="24" fill="#00ff00"/>
<rect x="785" y="391" width="1" height="23" fill="#000"/>
<rect x="783" y="404" width="5" height="9" fill="#000"/>
<rect x="784" y="405" width="3" height="7" fill="#00ff00"/>
<rect x="793" y="371" width="1" height="84" fill="#000"/>
<rect x="791" y="374" width="5" height="39" fill="#000"/>
<rect x="792" y="375" width="3" height="37" fill="#ff0000"/>
<rect x="801" y="349" width="1" height="38" fill="#000"/>
<rect x="799" y="374" width="5" height="13" fill="#000"/>
<rect x="800" y="375" width="3" height="11" fill="#00ff00"/>
<rect x="809" y="384" width="1" height="39" fill="#000"/>
<rect x="807" y="385" width="5" height="28" fill="#000"/>
<rect x="808" y="386" width="3" height="26" fill="#00ff00"/>
<rect x="817" y="393" width="1" height="48" fill="#000"/>
<rect x="815" y="412" width="5" height="9" fill="#000"/>
<rect x="816" y="413" width="3" height="7" fill="#00ff00"/>
<rect x="825" y="388" width="1" height="37" fill="#000"/>
<rect x="823" y="401" width="5" height="20" fill="#000"/>
<rect x="824" y="402" width="3" height="18" fill="#ff0000"/>
<rect x="833" y="365" width="1" height="55" fill="#000"/>
<rect x="831" y="368" width="5" height="34" fill="#000"/>
<rect x="832" y="369" width="3" height="32" fill="#ff0000"/>
<rect x="841" y="353" width="1" height="44" fill="#000"/>
<rect x="839" y="368" width="5" height="16" fill="#000"/>
<rect x="840" y="369" width="3" height="14" fill="#00ff00"/>
<rect x="849" y="382" width="1" height="35" fill="#000"/>
<rect x="847" y="383" width="5" height="29" fill="#000"/>
<rect x="848" y="384" width="3" height="27" fill="#00ff00"/>
<rect x="857" y="398" width="1" height="15" fill="#000"/>
<rect x="855" y="401" width="5" height="11" fill="#000"/>
<rect x="856" y="402" width="3" height="9" fill="#ff0000"/>
<rect x="865" y="385" width="1" height="30" fill="#000"/>
<rect x="863" y="401" width="5" height="4" fill="#000"/>
<rect x="864" y="402" width="3" height="2" fill="#00ff00"/>
<rect x="873" y="386" width="1" height="31" fill="#000"/>
<rect x="871" y="400" width="5" height="5" fill="#000"/>
<rect x="872" y="401" width="3" height="3" fill="#ff0000"/>
<rect x="881" y="368" width="1" height="41" fill="#000"/>
<rect x="879" y="373" width="5" height="28" fill="#000"/>
<rect x="880" y="374" width="3" height="26" fill="#ff0000"/>
<rect x="889" y="326" width="1" height="68" fill="#000"/>
<rect x="887" y="344" width="5" height="30" fill="#000"/>
<rect x="888" y="345" width="3" height="28" fill="#ff0000"/>
<rect x="897" y="340" width="1" height="28" fill="#000"/>
<rect x="895" y="342" width="5" height="3" fill="#000"/>
<rect x="896" y="343" width="3" height="1" fill="#ff0000"/>
<rect x="905" y="342" width="1" height="6" fill="#000"/>
<rect x="903" y="342" width="5" height="3" fill="#000"/>
<rect x="904" y="343" width="3" height="1" fill="#00ff00"/>
<rect x="913" y="360" width="1" height="10" fill="#000"/>
<rect x="911" y="364" width="5" height="1" fill="#000"/>
<rect x="921" y="329" width="1" height="52" fill="#000"/>
<rect x="919" y="342" width="5" height="22" fill="#000"/>
<rect x="920" y="343" width="3" height="20" fill="#ff0000"/>
<rect x="929" y="331" width="1" height="22" fill="#000"/>
<rect x="927" y="333" width="5" height="10" fill="#000"/>
<rect x="928" y="334" width="3" height="8" fill="#ff0000"/>
<rect x="937" y="331" width="1" height="28" fill="#000"/>
<rect x="935" y="334" width="5" height="1" fill="#000"/>
<rect x="945" y="307" width="1" height="66" fill="#000"/>
<rect x="943" y="316" width="5" height="19" fill="#000"/>
<rect x="944" y="317" width="3" height="17" fill="#ff0000"/>
<rect x="953" y="290" width="1" height="36" fill="#000"/>
<rect x="951" y="303" width="5" height="14" fill="#000"/>
<rect x="952" y="304" width="3" height="12" fill="#ff0000"/>
<rect x="961" y="294" width="1" height="13" fill="#000"/>
<rect x="959" y="294" width="5" height="10" fill="#000"/>
<rect x="960" y="295" width="3" height="8" fill="#ff0000"/>
<rect x="969" y="281" width="1" height="17" fill="#000"/>
<rect x="967" y="285" width="5" height="10" fill="#000"/>
<rect x="968" y="286" width="3" height="8" fill="#ff0000"/>
<rect x="977" y="268" width="1" height="24" fill="#000"/>
<rect x="975" y="285" width="5" height="1" fill="#000"/>
<rect x="985" y="269" width="1" height="24" fill="#000"/>
<rect x="983" y="276" width="5" height="10" fill="#000"/>
<rect x="984" y="277" width="3" height="8" fill="#ff0000"/>
<rect x="993" y="270" width="1" height="38" fill="#000"/>
<rect x="991" y="276" width="5" height="10" fill="#000"/>
<rect x="992" y="277" width="3" height="8" fill="#00ff00"/>
<rect x="1001" y="259" width="1" height="33" fill="#000"/>
<rect x="999" y="269" width="5" height="17" fill="#000"/>
<rect x="1000" y="270" width="3" height="15" fill="#ff0000"/>
<rect x="1009" y="260" width="1" height="12" fill="#000"/>
<rect x="1007" y="266" width="5" height="4" fill="#000"/>
<rect x="1008" y="267" width="3" height="2" fill="#ff0000"/>
<rect x="1017" y="254" width="1" height="32" fill="#000"/>
<rect x="1015" y="266" width="5" height="15" fill="#000"/>
<rect x="1016" y="267" width="3" height="13" fill="#00ff00"/>
<rect x="1025" y="267" width="1" height="19" fill="#000"/>
<rect x="1023" y="267" width="5" height="14" fill="#000"/>
<rect x="1024" y="268" width="3" height="12" fill="#ff0000"/>
<rect x="1033" y="240" width="1" height="37" fill="#000"/>
<rect x="1031" y="242" width="5" height="27" fill="#000"/>
<rect x="1032" y="243" width="3" height="25" fill="#ff0000"/>
<rect x="1041" y="226" width="1" height="47" fill="#000"/>
<rect x="1039" y="242" width="5" height="21" fill="#000"/>
<rect x="1040" y="243" width="3" height="19" fill="#00ff00"/>
<rect x="1049" y="260" width="1" height="55" fill="#000"/>
<rect x="1047" y="262" width="5" height="53" fill="#000"/>
<rect x="1048" y="263" width="3" height="51" fill="#00ff00"/>
<rect x="1057" y="304" width="1" height="12" fill="#000"/>
<rect x="1055" y="304" width="5" height="11" fill="#000"/>
<rect x="1056" y="305" width="3" height="9" fill="#ff0000"/>
<rect x="1065" y="291" width="1" height="26" fill="#000"/>
<rect x="1063" y="301" width="5" height="4" fill="#000"/>
<rect x="1064" y="302" width="3" height="2" fill="#ff0000"/>
<rect x="1073" y="295" width="1" height="24" fill="#000"/>
<rect x="1071" y="300" width="5" height="9" fill="#000"/>
<rect x="1072" y="301" width="3" height="7" fill="#00ff00"/>
<rect x="1081" y="296" width="1" height="34" fill="#000"/>
<rect x="1079" y="308" width="5" height="20" fill="#000"/>
<rect x="1080" y="309" width="3" height="18" fill="#00ff00"/>
<rect x="1089" y="307" width="1" height="83" fill="#000"/>
<rect x="1087" y="327" width="5" height="27" fill="#000"/>
<rect x="1088" y="328" width="3" height="25" fill="#00ff00"/>
<rect x="1097" y="338" width="1" height="46" fill="#000"/>
<rect x="1095" y="353" width="5" height="22" fill="#000"/>
<rect x="1096" y="354" width="3" height="20" fill="#00ff00"/>
<rect x="1105" y="368" width="1" height="11" fill="#000"/>
<rect x="1103" y="368" width="5" height="6" fill="#000"/>
<rect x="1104" y="369" width="3" height="4" fill="#ff0000"/>
<rect x="1113" y="359" width="1" height="23" fill="#000"/>
<rect x="1111" y="368" width="5" height="13" fill="#000"/>
<rect x="1112" y="369" width="3" height="11" fill="#00ff00"/>
<rect x="1121" y="375" width="1" height="25" fill="#000"/>
<rect x="1119" y="379" width="5" height="6" fill="#000"/>
<rect x="1120" y="380" width="3" height="4" fill="#00ff00"/>
<rect x="1129" y="321" width="1" height="69" fill="#000"/>
<rect x="1127" y="324" width="5" height="61" fill="#000"/>
<rect x="1128" y="325" width="3" height="59" fill="#ff0000"/>
<rect x="1137" y="319" width="1" height="38" fill="#000"/>
<rect x="1135" y="324" width="5" height="17" fill="#000"/>
<rect x="1136" y="325" width="3" height="15" fill="#00ff00"/>
<rect x="1145" y="312" width="1" height="29" fill="#000"/>
<rect x="1143" y="330" width="5" height="11" fill="#000"/>
<rect x="1144" y="331" width="3" height="9" fill="#ff0000"/>
<rect x="1153" y="326" width="1" height="7" fill="#000"/>
<rect x="1151" y="327" width="5" height="4" fill="#000"/>
<rect x="1152" y="328" width="3" height="2" fill="#ff0000"/>
<rect x="1161" y="325" width="1" height="10" fill="#000"/>
<rect x="1159" y="328" width="5" height="7" fill="#000"/>
<rect x="1160" y="329" width="3" height="5" fill="#00ff00"/>
<rect x="1169" y="328" width="1" height="23" fill="#000"/>
<rect x="1167" y="333" width="5" height="1" fill="#000"/>
<rect x="1177" y="317" width="1" height="19" fill="#000"/>
<rect x="1175" y="328" width="5" height="6" fill="#000"/>
<rect x="1176" y="329" width="3" height="4" fill="#ff0000"/>
<rect x="1185" y="310" width="1" height="39" fill="#000"/>
<rect x="1183" y="312" width="5" height="17" fill="#000"/>
<rect x="1184" y="313" width="3" height="15" fill="#ff0000"/>
<rect x="1193" y="286" width="1" height="29" fill="#000"/>
<rect x="1191" y="292" width="5" height="22" fill="#000"/>
<rect x="1192" y="293" width="3" height="20" fill="#ff0000"/>
<rect x="1201" y="290" width="1" height="6" fill="#000"/>
<rect x="1199" y="290" width="5" height="3" fill="#000"/>
<rect x="1200" y="291" width="3" height="1" fill="#ff0000"/>
<rect x="1209" y="288" width="1" height="5" fill="#000"/>
<rect x="1207" y="290" width="5" height="3" fill="#000"/>
<rect x="1208" y="291" width="3" height="1" fill="#00ff00"/>
<rect x="1217" y="272" width="1" height="31" fill="#000"/>
<rect x="1215" y="292" width="5" height="7" fill="#000"/>
<rect x="1216" y="293" width="3" height="5" fill="#00ff00"/>
<rect x="1225" y="289" width="1" height="21" fill="#000"/>
<rect x="1223" y="294" width="5" height="5" fill="#000"/>
<rect x="1224" y="295" width="3" height="3" fill="#ff0000"/>
<rect x="1233" y="289" width="1" height="52" fill="#000"/>
<rect x="1231" y="294" width="5" height="38" fill="#000"/>
<rect x="1232" y="295" width="3" height="36" fill="#00ff00"/>
<rect x="1241" y="318" width="1" height="194" fill="#000"/>
<rect x="1239" y="331" width="5" height="156" fill="#000"/>
<rect x="1240" y="332" width="3" height="154" fill="#00ff00"/>
<rect x="1249" y="481" width="1" height="48" fill="#000"/>
<rect x="1247" y="486" width="5" height="4" fill="#000"/>
<rect x="1248" y="487" width="3" height="2" fill="#00ff00"/>
<rect x="1257" y="459" width="1" height="32" fill="#000"/>
<rect x="1255" y="471" width="5" height="20" fill="#000"/>
<rect x="1256" y="472" width="3" height="18" fill="#ff0000"/>
</g>
<polyline points="-7,134.5 1.0,135.2 9.0,136.5 17.0,136.8 25.0,137.1 33.0,137.2 41.0,137.4 49.0,140.4 57.0,140.4 65.0,136.9 73.0,133.2 81.0,130.1 89.0,127.1 97.0,124.9 105.0,122.9 113.0,121.4 121.0,121.4 129.0,125.1 137.0,129.2 145.0,131.2 153.0,124.4 161.0,113.0 169.0,101.6 177.0,93.3 185.0,86.8 193.0,82.5 201.0,79.2 209.0,76.8 217.0,73.6 225.0,73.2 233.0,75.5 241.0,82.1 249.0,95.8 257.0,93.3 265.0,92.3 273.0,91.0 281.0,90.8 289.0,95.0 297.0,94.9 305.0,83.8 313.0,78.0 321.0,71.8 329.0,68.6 337.0,64.8 345.0,61.4 353.0,59.6 361.0,58.8 369.0,60.1 377.0,60.5 385.0,57.9 393.0,58.5 401.0,62.4 409.0,63.4 417.0,61.1 425.0,59.8 433.0,57.8 441.0,55.9 449.0,55.3 457.0,56.5 465.0,61.1 473.0,64.0 481.0,65.3 489.0,66.2 497.0,63.7 505.0,64.5 513.0,65.5 521.0,67.3 529.0,68.2 537.0,68.9 545.0,72.8 553.0,66.6 561.0,65.9 569.0,65.5 577.0,63.1 585.0,55.7 593.0,54.9 601.0,55.5 609.0,58.9 617.0,63.0 625.0,68.6 633.0,75.0 641.0,74.3 649.0,74.0 657.0,85.1 665.0,86.0 673.0,87.8 681.0,95.0 689.0,105.8 697.0,116.9 705.0,126.7 713.0,133.1 721.0,143.5 729.0,154.8 737.0,165.2 745.0,169.9 753.0,182.3 761.0,207.1 769.0,216.1 777.0,223.5 785.0,242.5 793.0,266.9 801.0,267.3 809.0,264.2 817.0,261.7 825.0,263.3 833.0,264.3 841.0,266.0 849.0,267.6 857.0,270.2 865.0,274.8 873.0,280.0 881.0,289.7 889.0,298.8 897.0,308.5 905.0,314.9 913.0,325.5 921.0,332.7 929.0,326.0 937.0,319.9 945.0,311.6 953.0,301.0 961.0,289.6 969.0,279.0 977.0,271.3 985.0,262.0 993.0,254.5 1001.0,245.8 1009.0,240.7 1017.0,239.2 1025.0,238.0 1033.0,234.3 1041.0,232.9 1049.0,233.9 1057.0,234.8 1065.0,236.2 1073.0,241.7 1081.0,243.4 1089.0,240.6 1097.0,234.3 1105.0,229.6 1113.0,224.7 1121.0,221.6 1129.0,223.8 1137.0,226.2 1145.0,230.2 1153.0,233.3 1161.0,239.0 1169.0,246.0 1177.0,250.9 1185.0,257.8 1193.0,269.7 1201.0,276.3 1209.0,273.2 1217.0,272.2 1225.0,271.0 1233.0,273.0 1241.0,249.5 1249.0,234.6 1257.0,227.1" fill="none" stroke="#3cb371" stroke-width="1" shape-rendering="crispEdges"/>
<polyline points="-7,195.5 1.0,194.2 9.0,193.0 17.0,191.8 25.0,190.6 33.0,189.4 41.0,188.2 49.0,187.0 57.0,187.8 65.0,189.3 73.0,190.7 81.0,192.2 89.0,193.7 97.0,194.0 105.0,193.3 113.0,192.6 121.0,192.2 129.0,194.0 137.0,195.8 145.0,196.0 153.0,195.3 161.0,192.2 169.0,187.6 177.0,183.3 185.0,179.2 193.0,177.0 201.0,174.1 209.0,172.2 217.0,168.5 225.0,162.9 233.0,157.3 241.0,152.4 249.0,145.8 257.0,142.7 265.0,140.6 273.0,138.5 281.0,135.3 289.0,130.7 297.0,125.7 305.0,121.9 313.0,120.2 321.0,118.4 329.0,117.1 337.0,115.2 345.0,113.1 353.0,111.1 361.0,108.6 369.0,106.4 377.0,104.8 385.0,102.0 393.0,101.6 401.0,99.6 409.0,98.9 417.0,100.0 425.0,100.6 433.0,101.6 441.0,103.0 449.0,102.5 457.0,103.2 465.0,105.1 473.0,106.4 481.0,106.8 489.0,107.1 497.0,106.5 505.0,109.6 513.0,112.0 521.0,114.1 529.0,115.6 537.0,117.7 545.0,122.2 553.0,125.7 561.0,129.3 569.0,132.8 577.0,135.6 585.0,140.5 593.0,143.2 601.0,144.1 609.0,150.1 617.0,156.3 625.0,160.5 633.0,165.7 641.0,177.2 649.0,188.9 657.0,201.7 665.0,210.2 673.0,220.2 681.0,230.1 689.0,239.7 697.0,248.9 705.0,256.4 713.0,262.6 721.0,268.4 729.0,274.0 737.0,279.0 745.0,282.8 753.0,288.5 761.0,296.1 769.0,304.1 777.0,313.2 785.0,324.1 793.0,332.3 801.0,336.0 809.0,340.2 817.0,344.8 825.0,349.0 833.0,350.3 841.0,352.8 849.0,357.0 857.0,360.6 865.0,364.9 873.0,368.9 881.0,372.6 889.0,375.1 897.0,377.4 905.0,379.0 913.0,381.7 921.0,383.1 929.0,380.9 937.0,377.4 945.0,372.6 953.0,369.1 961.0,364.5 969.0,358.2 977.0,351.5 985.0,345.2 993.0,341.0 1001.0,335.3 1009.0,328.1 1017.0,322.0 1025.0,315.2 1033.0,307.3 1041.0,301.7 1049.0,300.2 1057.0,298.3 1065.0,296.1 1073.0,293.4 1081.0,292.6 1089.0,293.6 1097.0,295.6 1105.0,298.2 1113.0,302.0 1121.0,306.5 1129.0,308.4 1137.0,311.2 1145.0,313.9 1153.0,316.1 1161.0,319.3 1169.0,322.6 1177.0,325.0 1185.0,327.3 1193.0,329.8 1201.0,331.1 1209.0,330.1 1217.0,329.7 1225.0,329.4 1233.0,330.5 1241.0,338.5 1249.0,345.3 1257.0,350.2" fill="none" stroke="#3cb371" stroke-width="1" shape-rendering="crispEdges"/>
<polyline points="-7,258 1.0,255.0 9.0,251.4 17.0,247.7 25.0,244.1 33.0,240.4 41.0,236.7 49.0,233.1 57.0,234.4 65.0,241.7 73.0,248.9 81.0,256.2 89.0,263.3 97.0,263.3 105.0,263.3 113.0,263.2 121.0,263.2 129.0,263.2 137.0,263.1 145.0,262.4 153.0,266.2 161.0,271.4 169.0,273.5 177.0,273.2 185.0,271.7 193.0,271.5 201.0,269.0 209.0,267.6 217.0,263.4 225.0,252.6 233.0,239.2 241.0,222.8 249.0,195.8 257.0,192.2 265.0,189.0 273.0,186.1 281.0,179.7 289.0,166.4 297.0,156.5 305.0,160.0 313.0,162.5 321.0,164.9 329.0,165.5 337.0,165.6 345.0,164.8 353.0,162.5 361.0,158.3 369.0,152.7 377.0,149.0 385.0,146.1 393.0,144.8 401.0,136.8 409.0,134.4 417.0,139.0 425.0,141.3 433.0,145.4 441.0,150.2 449.0,149.7 457.0,149.8 465.0,149.2 473.0,148.9 481.0,148.3 489.0,148.1 497.0,149.3 505.0,154.7 513.0,158.6 521.0,160.9 529.0,163.0 537.0,166.5 545.0,171.7 553.0,184.8 561.0,192.8 569.0,200.2 577.0,208.2 585.0,225.3 593.0,231.5 601.0,232.7 609.0,241.4 617.0,249.5 625.0,252.4 633.0,256.4 641.0,280.2 649.0,303.7 657.0,318.2 665.0,334.4 673.0,352.6 681.0,365.3 689.0,373.6 697.0,380.9 705.0,386.1 713.0,392.1 721.0,393.4 729.0,393.2 737.0,392.8 745.0,395.7 753.0,394.7 761.0,385.1 769.0,392.2 777.0,402.9 785.0,405.7 793.0,397.8 801.0,404.7 809.0,416.2 817.0,428.0 825.0,434.7 833.0,436.4 841.0,439.6 849.0,446.4 857.0,451.1 865.0,455.0 873.0,457.8 881.0,455.5 889.0,451.3 897.0,446.3 905.0,443.1 913.0,437.9 921.0,433.5 929.0,435.8 937.0,435.0 945.0,433.7 953.0,437.2 961.0,439.5 969.0,437.4 977.0,431.6 985.0,428.3 993.0,427.5 1001.0,424.8 1009.0,415.4 1017.0,404.8 1025.0,392.3 1033.0,380.2 1041.0,370.5 1049.0,366.4 1057.0,361.8 1065.0,356.1 1073.0,345.0 1081.0,341.8 1089.0,346.6 1097.0,356.9 1105.0,366.8 1113.0,379.3 1121.0,391.4 1129.0,393.1 1137.0,396.2 1145.0,397.7 1153.0,398.9 1161.0,399.5 1169.0,399.2 1177.0,399.1 1185.0,396.8 1193.0,389.8 1201.0,385.9 1209.0,387.0 1217.0,387.3 1225.0,387.7 1233.0,388.1 1241.0,427.4 1249.0,456.0 1257.0,473.3" fill="none" stroke="#3cb371" stroke-width="1" shape-rendering="crispEdges"/>
<g shape-rendering="crispEdges">
<rect x="0" y="389" width="1595" height="2" fill="#ff0000"/>
<rect x="1594" y="387" width="6" height="6" fill="#ff0000"/><rect x="1596" y="389" width="2" height="2" fill="#fff"/>
<rect x="0" y="424" width="1595" height="2" fill="#ff0000"/>
<rect x="1594" y="422" width="6" height="6" fill="#ff0000"/><rect x="1596" y="424" width="2" height="2" fill="#fff"/>
<rect x="0" y="455" width="1595" height="2" fill="#ff8c00"/>
<rect x="1594" y="453" width="6" height="6" fill="#ff8c00"/><rect x="1596" y="455" width="2" height="2" fill="#fff"/>
<rect x="0" y="502" width="1595" height="2" fill="#0000ff"/>
<rect x="1594" y="500" width="6" height="6" fill="#0000ff"/><rect x="1596" y="502" width="2" height="2" fill="#fff"/>
<rect x="0" y="531" width="1595" height="2" fill="#0000ff"/>
<rect x="1594" y="529" width="6" height="6" fill="#0000ff"/><rect x="1596" y="531" width="2" height="2" fill="#fff"/>
<rect x="0" y="471" width="1602" height="1" fill="#000"/>
</g>
<line x1="1231.5" y1="304" x2="1292" y2="493" stroke="#4f9d2d" stroke-width="3.4" stroke-linecap="round"/>
<polygon points="1283.9,492.4 1300.2,487.2 1297.5,506" fill="#4f9d2d"/>
<g font-family='"Liberation Sans", sans-serif' font-size="10" fill="#000">
<rect x="1601" y="42" width="2" height="1" fill="#000" shape-rendering="crispEdges"/>
<text x="1606.3" y="46" textLength="33.04" lengthAdjust="spacingAndGlyphs">124.140</text>
<rect x="1601" y="75" width="2" height="1" fill="#000" shape-rendering="crispEdges"/>
<text x="1606.3" y="79" textLength="33.04" lengthAdjust="spacingAndGlyphs">122.340</text>
<rect x="1601" y="108" width="2" height="1" fill="#000" shape-rendering="crispEdges"/>
<text x="1606.3" y="112" textLength="33.04" lengthAdjust="spacingAndGlyphs">120.490</text>
<rect x="1601" y="141" width="2" height="1" fill="#000" shape-rendering="crispEdges"/>
<text x="1606.3" y="145" textLength="33.04" lengthAdjust="spacingAndGlyphs">118.690</text>
<rect x="1601" y="174" width="2" height="1" fill="#000" shape-rendering="crispEdges"/>
<text x="1606.3" y="178" textLength="33.04" lengthAdjust="spacingAndGlyphs">116.890</text>
<rect x="1601" y="207" width="2" height="1" fill="#000" shape-rendering="crispEdges"/>
<text x="1606.3" y="211" textLength="33.04" lengthAdjust="spacingAndGlyphs">115.040</text>
<rect x="1601" y="240" width="2" height="1" fill="#000" shape-rendering="crispEdges"/>
<text x="1606.3" y="244" textLength="33.04" lengthAdjust="spacingAndGlyphs">113.240</text>
<rect x="1601" y="273" width="2" height="1" fill="#000" shape-rendering="crispEdges"/>
<text x="1606.3" y="277" textLength="33.04" lengthAdjust="spacingAndGlyphs">111.440</text>
<rect x="1601" y="306" width="2" height="1" fill="#000" shape-rendering="crispEdges"/>
<text x="1606.3" y="310" textLength="33.04" lengthAdjust="spacingAndGlyphs">109.590</text>
<rect x="1601" y="339" width="2" height="1" fill="#000" shape-rendering="crispEdges"/>
<text x="1606.3" y="343" textLength="33.04" lengthAdjust="spacingAndGlyphs">107.790</text>
<rect x="1601" y="372" width="2" height="1" fill="#000" shape-rendering="crispEdges"/>
<text x="1606.3" y="376" textLength="33.04" lengthAdjust="spacingAndGlyphs">105.990</text>
<rect x="1601" y="405" width="2" height="1" fill="#000" shape-rendering="crispEdges"/>
<text x="1606.3" y="409" textLength="33.04" lengthAdjust="spacingAndGlyphs">104.140</text>
<rect x="1601" y="438" width="2" height="1" fill="#000" shape-rendering="crispEdges"/>
<text x="1606.3" y="442" textLength="33.04" lengthAdjust="spacingAndGlyphs">102.340</text>
<rect x="1601" y="537" width="2" height="1" fill="#000" shape-rendering="crispEdges"/>
<text x="1606.3" y="541" textLength="28.32" lengthAdjust="spacingAndGlyphs">96.890</text>
</g>
<g font-family='"Liberation Sans", sans-serif' font-size="10">
<rect x="1602" y="384" width="39" height="11" fill="#ff0000" shape-rendering="crispEdges"/>
<text x="1606.3" y="393" fill="#fff" textLength="33.04" lengthAdjust="spacingAndGlyphs">104.989</text>
<rect x="1602" y="419" width="39" height="11" fill="#ff0000" shape-rendering="crispEdges"/>
<text x="1606.3" y="428" fill="#fff" textLength="33.04" lengthAdjust="spacingAndGlyphs">103.064</text>
<rect x="1602" y="450" width="39" height="11" fill="#ff8c00" shape-rendering="crispEdges"/>
<text x="1606.3" y="459" fill="#fff" textLength="33.04" lengthAdjust="spacingAndGlyphs">101.359</text>
<rect x="1602" y="466" width="39" height="11" fill="#000000" shape-rendering="crispEdges"/>
<text x="1606.3" y="475" fill="#fff" textLength="33.04" lengthAdjust="spacingAndGlyphs">100.530</text>
<rect x="1602" y="497" width="36" height="11" fill="#0000ff" shape-rendering="crispEdges"/>
<text x="1606.3" y="506" fill="#fff" textLength="28.32" lengthAdjust="spacingAndGlyphs">98.775</text>
<rect x="1602" y="526" width="36" height="11" fill="#0000ff" shape-rendering="crispEdges"/>
<text x="1606.3" y="535" fill="#fff" textLength="28.32" lengthAdjust="spacingAndGlyphs">97.180</text>
</g>
<g shape-rendering="crispEdges" fill="#00ff00">
<rect x="0" y="554" width="3" height="42"/>
<rect x="8" y="560" width="3" height="36"/>
<rect x="16" y="566" width="3" height="30"/>
<rect x="24" y="570" width="3" height="26"/>
<rect x="32" y="571" width="3" height="25"/>
<rect x="40" y="574" width="3" height="22"/>
<rect x="48" y="576" width="3" height="20"/>
<rect x="56" y="580" width="3" height="16"/>
<rect x="64" y="586" width="3" height="10"/>
<rect x="72" y="592" width="3" height="4"/>
<rect x="80" y="596" width="3" height="1"/>
<rect x="88" y="596" width="3" height="7"/>
<rect x="96" y="596" width="3" height="1"/>
<rect x="104" y="592" width="3" height="4"/>
<rect x="112" y="587" width="3" height="9"/>
<rect x="120" y="586" width="3" height="10"/>
<rect x="128" y="587" width="3" height="9"/>
<rect x="136" y="586" width="3" height="10"/>
<rect x="144" y="581" width="3" height="15"/>
<rect x="152" y="574" width="3" height="22"/>
<rect x="160" y="568" width="3" height="28"/>
<rect x="168" y="564" width="3" height="32"/>
<rect x="176" y="562" width="3" height="34"/>
<rect x="184" y="562" width="3" height="34"/>
<rect x="192" y="563" width="3" height="33"/>
<rect x="200" y="565" width="3" height="31"/>
<rect x="208" y="567" width="3" height="29"/>
<rect x="216" y="568" width="3" height="28"/>
<rect x="224" y="569" width="3" height="27"/>
<rect x="232" y="570" width="3" height="26"/>
<rect x="240" y="573" width="3" height="23"/>
<rect x="248" y="573" width="3" height="23"/>
<rect x="256" y="572" width="3" height="24"/>
<rect x="264" y="573" width="3" height="23"/>
<rect x="272" y="573" width="3" height="23"/>
<rect x="280" y="573" width="3" height="23"/>
<rect x="288" y="572" width="3" height="24"/>
<rect x="296" y="569" width="3" height="27"/>
<rect x="304" y="565" width="3" height="31"/>
<rect x="312" y="564" width="3" height="32"/>
<rect x="320" y="562" width="3" height="34"/>
<rect x="328" y="563" width="3" height="33"/>
<rect x="336" y="564" width="3" height="32"/>
<rect x="344" y="565" width="3" height="31"/>
<rect x="352" y="567" width="3" height="29"/>
<rect x="360" y="569" width="3" height="27"/>
<rect x="368" y="572" width="3" height="24"/>
<rect x="376" y="574" width="3" height="22"/>
<rect x="384" y="574" width="3" height="22"/>
<rect x="392" y="579" width="3" height="17"/>
<rect x="400" y="581" width="3" height="15"/>
<rect x="408" y="584" width="3" height="12"/>
<rect x="416" y="589" width="3" height="7"/>
<rect x="424" y="593" width="3" height="3"/>
<rect x="432" y="596" width="3" height="1"/>
<rect x="440" y="596" width="3" height="3"/>
<rect x="448" y="596" width="3" height="1"/>
<rect x="456" y="594" width="3" height="2"/>
<rect x="464" y="594" width="3" height="2"/>
<rect x="472" y="593" width="3" height="3"/>
<rect x="480" y="590" width="3" height="6"/>
<rect x="488" y="589" width="3" height="7"/>
<rect x="496" y="585" width="3" height="11"/>
<rect x="504" y="591" width="3" height="5"/>
<rect x="512" y="595" width="3" height="1"/>
<rect x="520" y="596" width="3" height="2"/>
<rect x="528" y="596" width="3" height="4"/>
<rect x="536" y="596" width="3" height="7"/>
<rect x="544" y="596" width="3" height="11"/>
<rect x="552" y="596" width="3" height="18"/>
<rect x="560" y="596" width="3" height="21"/>
<rect x="568" y="596" width="3" height="24"/>
<rect x="576" y="596" width="3" height="27"/>
<rect x="584" y="596" width="3" height="34"/>
<rect x="592" y="596" width="3" height="34"/>
<rect x="600" y="596" width="3" height="30"/>
<rect x="608" y="596" width="3" height="33"/>
<rect x="616" y="596" width="3" height="35"/>
<rect x="624" y="596" width="3" height="33"/>
<rect x="632" y="596" width="3" height="33"/>
<rect x="640" y="596" width="3" height="45"/>
<rect x="648" y="596" width="3" height="55"/>
<rect x="656" y="596" width="3" height="62"/>
<rect x="664" y="596" width="3" height="66"/>
<rect x="672" y="596" width="3" height="71"/>
<rect x="680" y="596" width="3" height="73"/>
<rect x="688" y="596" width="3" height="73"/>
<rect x="696" y="596" width="3" height="73"/>
<rect x="704" y="596" width="3" height="70"/>
<rect x="712" y="596" width="3" height="68"/>
<rect x="720" y="596" width="3" height="62"/>
<rect x="728" y="596" width="3" height="57"/>
<rect x="736" y="596" width="3" height="53"/>
<rect x="744" y="596" width="3" height="50"/>
<rect x="752" y="596" width="3" height="48"/>
<rect x="760" y="596" width="3" height="46"/>
<rect x="768" y="596" width="3" height="50"/>
<rect x="776" y="596" width="3" height="57"/>
<rect x="784" y="596" width="3" height="62"/>
<rect x="792" y="596" width="3" height="61"/>
<rect x="800" y="596" width="3" height="61"/>
<rect x="808" y="596" width="3" height="63"/>
<rect x="816" y="596" width="3" height="65"/>
<rect x="824" y="596" width="3" height="64"/>
<rect x="832" y="596" width="3" height="58"/>
<rect x="840" y="596" width="3" height="55"/>
<rect x="848" y="596" width="3" height="55"/>
<rect x="856" y="596" width="3" height="53"/>
<rect x="864" y="596" width="3" height="51"/>
<rect x="872" y="596" width="3" height="49"/>
<rect x="880" y="596" width="3" height="44"/>
<rect x="888" y="596" width="3" height="35"/>
<rect x="896" y="596" width="3" height="29"/>
<rect x="904" y="596" width="3" height="23"/>
<rect x="912" y="596" width="3" height="21"/>
<rect x="920" y="596" width="3" height="16"/>
<rect x="928" y="596" width="3" height="11"/>
<rect x="936" y="596" width="3" height="8"/>
<rect x="944" y="596" width="3" height="3"/>
<rect x="952" y="593" width="3" height="3"/>
<rect x="960" y="588" width="3" height="8"/>
<rect x="968" y="583" width="3" height="13"/>
<rect x="976" y="579" width="3" height="17"/>
<rect x="984" y="575" width="3" height="21"/>
<rect x="992" y="573" width="3" height="23"/>
<rect x="1000" y="571" width="3" height="25"/>
<rect x="1008" y="568" width="3" height="28"/>
<rect x="1016" y="568" width="3" height="28"/>
<rect x="1024" y="567" width="3" height="29"/>
<rect x="1032" y="564" width="3" height="32"/>
<rect x="1040" y="564" width="3" height="32"/>
<rect x="1048" y="570" width="3" height="26"/>
<rect x="1056" y="574" width="3" height="22"/>
<rect x="1064" y="577" width="3" height="19"/>
<rect x="1072" y="581" width="3" height="15"/>
<rect x="1080" y="586" width="3" height="10"/>
<rect x="1088" y="593" width="3" height="3"/>
<rect x="1096" y="596" width="3" height="5"/>
<rect x="1104" y="596" width="3" height="10"/>
<rect x="1112" y="596" width="3" height="16"/>
<rect x="1120" y="596" width="3" height="20"/>
<rect x="1128" y="596" width="3" height="17"/>
<rect x="1136" y="596" width="3" height="16"/>
<rect x="1144" y="596" width="3" height="14"/>
<rect x="1152" y="596" width="3" height="11"/>
<rect x="1160" y="596" width="3" height="10"/>
<rect x="1168" y="596" width="3" height="9"/>
<rect x="1176" y="596" width="3" height="8"/>
<rect x="1184" y="596" width="3" height="5"/>
<rect x="1192" y="596" width="3" height="1"/>
<rect x="1200" y="592" width="3" height="4"/>
<rect x="1208" y="589" width="3" height="7"/>
<rect x="1216" y="588" width="3" height="8"/>
<rect x="1224" y="586" width="3" height="10"/>
<rect x="1232" y="590" width="3" height="6"/>
<rect x="1240" y="596" width="3" height="14"/>
<rect x="1248" y="596" width="3" height="29"/>
<rect x="1256" y="596" width="3" height="40"/>
</g>
<polyline points="-7,555 1.0,555.6 9.0,556.0 17.0,556.4 25.0,558.2 33.0,560.0 41.0,562.0 49.0,563.9 57.0,567.3 65.0,570.9 73.0,575.1 81.0,579.2 89.0,583.3 97.0,586.3 105.0,588.6 113.0,590.0 121.0,591.1 129.0,591.9 137.0,591.9 145.0,590.6 153.0,588.0 161.0,584.1 169.0,580.5 177.0,577.2 185.0,574.4 193.0,571.8 201.0,569.4 209.0,567.3 217.0,566.0 225.0,565.4 233.0,565.7 241.0,566.7 249.0,567.8 257.0,569.0 265.0,570.1 273.0,571.0 281.0,571.5 289.0,571.9 297.0,571.9 305.0,571.3 313.0,570.3 321.0,569.1 329.0,568.1 337.0,567.1 345.0,566.2 353.0,565.6 361.0,565.3 369.0,565.6 377.0,566.6 385.0,567.7 393.0,569.6 401.0,571.6 409.0,573.8 417.0,576.5 425.0,579.4 433.0,582.5 441.0,585.5 449.0,588.0 457.0,590.2 465.0,591.8 473.0,593.1 481.0,593.7 489.0,593.7 497.0,592.8 505.0,592.3 513.0,591.8 521.0,592.0 529.0,592.7 537.0,593.7 545.0,595.3 553.0,598.0 561.0,601.2 569.0,605.0 577.0,608.5 585.0,612.3 593.0,615.9 601.0,618.8 609.0,621.7 617.0,624.3 625.0,626.1 633.0,627.4 641.0,629.8 649.0,632.9 657.0,636.0 665.0,639.5 673.0,644.1 681.0,648.5 689.0,652.7 697.0,657.1 705.0,661.1 713.0,663.7 721.0,664.6 729.0,664.1 737.0,662.6 745.0,660.3 753.0,657.5 761.0,654.5 769.0,652.0 777.0,650.5 785.0,649.9 793.0,649.7 801.0,650.1 809.0,651.3 817.0,652.9 825.0,654.6 833.0,656.0 841.0,656.5 849.0,656.3 857.0,655.3 865.0,654.2 873.0,652.9 881.0,650.7 889.0,647.5 897.0,643.6 905.0,639.7 913.0,635.9 921.0,631.6 929.0,627.0 937.0,622.2 945.0,617.0 953.0,611.9 961.0,607.1 969.0,602.4 977.0,598.0 985.0,593.4 993.0,589.1 1001.0,585.0 1009.0,581.1 1017.0,577.7 1025.0,574.8 1033.0,572.2 1041.0,570.1 1049.0,569.1 1057.0,569.0 1065.0,569.4 1073.0,570.5 1081.0,572.5 1089.0,575.2 1097.0,578.9 1105.0,583.5 1113.0,588.8 1121.0,593.9 1129.0,598.2 1137.0,602.0 1145.0,605.2 1153.0,607.6 1161.0,609.1 1169.0,609.6 1177.0,609.3 1185.0,608.2 1193.0,605.9 1201.0,603.6 1209.0,601.2 1217.0,598.8 1225.0,596.4 1233.0,594.6 1241.0,595.1 1249.0,597.5 1257.0,601.3" fill="none" stroke="#ff0000" stroke-width="2" shape-rendering="crispEdges"/>
<g font-family='"Liberation Sans", sans-serif' font-size="10" fill="#000">
<rect x="1601" y="544" width="2" height="1" fill="#000" shape-rendering="crispEdges"/>
<text x="1603.6" y="553" textLength="29" lengthAdjust="spacingAndGlyphs">2.0298</text>
<rect x="1601" y="596" width="1" height="1" fill="#000" shape-rendering="crispEdges"/>
<text x="1603.6" y="600" textLength="19" lengthAdjust="spacingAndGlyphs">0.00</text>
<rect x="1601" y="674" width="2" height="1" fill="#000" shape-rendering="crispEdges"/>
<text x="1603.6" y="672" textLength="31.5" lengthAdjust="spacingAndGlyphs">-3.0714</text>
<text x="-1.5" y="555" font-size="9.8" textLength="132.5" lengthAdjust="spacingAndGlyphs">MACD(12,26,9) -1.5388 -0.2047</text>
</g>
<g stroke="#000" stroke-width="1" stroke-dasharray="3 3" shape-rendering="crispEdges">
<line x1="0" y1="701.5" x2="1600" y2="701.5"/>
<line x1="0" y1="736.5" x2="1600" y2="736.5"/>
<line x1="0" y1="776.5" x2="1600" y2="776.5"/>
</g>
<polyline points="-7,714 1.0,724.6 9.0,734.8 17.0,735.5 25.0,735.3 33.0,727.4 41.0,734.3 49.0,730.5 57.0,737.4 65.0,745.2 73.0,745.9 81.0,746.5 89.0,749.5 97.0,727.8 105.0,726.3 113.0,725.5 121.0,729.8 129.0,734.3 137.0,731.6 145.0,723.4 153.0,718.3 161.0,718.2 169.0,718.5 177.0,721.3 185.0,722.9 193.0,725.4 201.0,728.3 209.0,730.0 217.0,726.9 225.0,725.5 233.0,726.8 241.0,732.7 249.0,726.5 257.0,723.3 265.0,727.6 273.0,726.4 281.0,724.2 289.0,721.8 297.0,717.0 305.0,713.4 313.0,718.0 321.0,717.0 329.0,722.5 337.0,721.7 345.0,722.0 353.0,726.0 361.0,726.0 369.0,731.6 377.0,731.2 385.0,721.4 393.0,741.0 401.0,735.2 409.0,736.9 417.0,743.9 425.0,743.8 433.0,745.1 441.0,745.1 449.0,729.4 457.0,730.4 465.0,733.7 473.0,732.7 481.0,725.8 489.0,730.4 497.0,724.2 505.0,744.9 513.0,743.4 521.0,741.5 529.0,741.5 537.0,744.1 545.0,749.0 553.0,754.7 561.0,750.0 569.0,750.4 577.0,752.5 585.0,759.7 593.0,747.4 601.0,738.5 609.0,748.5 617.0,749.1 625.0,742.6 633.0,745.4 641.0,758.4 649.0,759.9 657.0,759.8 665.0,757.6 673.0,760.2 681.0,758.2 689.0,756.2 697.0,756.6 705.0,753.3 713.0,753.7 721.0,747.3 729.0,746.4 737.0,746.4 745.0,749.9 753.0,749.0 761.0,750.0 769.0,761.1 777.0,764.3 785.0,765.3 793.0,753.1 801.0,755.0 809.0,758.7 817.0,759.8 825.0,754.0 833.0,744.8 841.0,747.6 849.0,752.1 857.0,749.6 865.0,750.0 873.0,749.0 881.0,741.2 889.0,734.1 897.0,733.7 905.0,734.2 913.0,739.4 921.0,733.8 929.0,731.5 937.0,731.7 945.0,727.4 953.0,724.4 961.0,722.4 969.0,720.4 977.0,720.3 985.0,718.2 993.0,722.1 1001.0,718.4 1009.0,717.7 1017.0,723.9 1025.0,720.5 1033.0,714.9 1041.0,723.1 1049.0,738.8 1057.0,736.4 1065.0,735.3 1073.0,737.6 1081.0,742.7 1089.0,748.5 1097.0,752.8 1105.0,751.0 1113.0,753.3 1121.0,754.1 1129.0,735.8 1137.0,739.4 1145.0,737.0 1153.0,736.2 1161.0,737.9 1169.0,737.6 1177.0,736.2 1185.0,731.4 1193.0,726.0 1201.0,725.4 1209.0,726.5 1217.0,728.6 1225.0,727.3 1233.0,740.7 1241.0,765.8 1249.0,766.1 1257.0,760.8" fill="none" stroke="#1e90ff" stroke-width="2" shape-rendering="crispEdges"/>
<g font-family='"Liberation Sans", sans-serif' font-size="10" fill="#000">
<rect x="1601" y="679" width="2" height="1" fill="#000" shape-rendering="crispEdges"/>
<text x="1603.8" y="688" textLength="15" lengthAdjust="spacingAndGlyphs">100</text>
<text x="1603.3" y="705" textLength="10" lengthAdjust="spacingAndGlyphs">80</text>
<text x="1603.3" y="740" textLength="10" lengthAdjust="spacingAndGlyphs">50</text>
<text x="1603.3" y="780" textLength="10" lengthAdjust="spacingAndGlyphs">15</text>
<text x="1603.8" y="790.5" textLength="5" lengthAdjust="spacingAndGlyphs">0</text>
<rect x="1601" y="793" width="1" height="1" fill="#000" shape-rendering="crispEdges"/>
<text x="-3" y="690" font-size="9.8" textLength="68.5" lengthAdjust="spacingAndGlyphs">RSI(14) 28.5175</text>
</g>
<g font-family='"Liberation Sans", sans-serif' font-size="10" letter-spacing="-0.2" fill="#000">
<text x="-8.5" y="807">31 May 2022</text>
<rect x="57" y="795" width="1" height="3" fill="#000" shape-rendering="crispEdges"/>
<text x="55.3" y="807">1 Jun 16:00</text>
<rect x="121" y="795" width="1" height="3" fill="#000" shape-rendering="crispEdges"/>
<text x="119.3" y="807">3 Jun 00:00</text>
<rect x="185" y="795" width="1" height="3" fill="#000" shape-rendering="crispEdges"/>
<text x="183.3" y="807">6 Jun 04:00</text>
<rect x="249" y="795" width="1" height="3" fill="#000" shape-rendering="crispEdges"/>
<text x="247.3" y="807">7 Jun 12:00</text>
<rect x="313" y="795" width="1" height="3" fill="#000" shape-rendering="crispEdges"/>
<text x="311.3" y="807">8 Jun 20:00</text>
<rect x="377" y="795" width="1" height="3" fill="#000" shape-rendering="crispEdges"/>
<text x="375.3" y="807">10 Jun 04:00</text>
<rect x="441" y="795" width="1" height="3" fill="#000" shape-rendering="crispEdges"/>
<text x="439.3" y="807">13 Jun 08:00</text>
<rect x="505" y="795" width="1" height="3" fill="#000" shape-rendering="crispEdges"/>
<text x="503.3" y="807">14 Jun 16:00</text>
<rect x="569" y="795" width="1" height="3" fill="#000" shape-rendering="crispEdges"/>
<text x="567.3" y="807">16 Jun 00:00</text>
<rect x="633" y="795" width="1" height="3" fill="#000" shape-rendering="crispEdges"/>
<text x="631.3" y="807">17 Jun 08:00</text>
<rect x="697" y="795" width="1" height="3" fill="#000" shape-rendering="crispEdges"/>
<text x="695.3" y="807">20 Jun 12:00</text>
<rect x="761" y="795" width="1" height="3" fill="#000" shape-rendering="crispEdges"/>
<text x="759.3" y="807">21 Jun 20:00</text>
<rect x="825" y="795" width="1" height="3" fill="#000" shape-rendering="crispEdges"/>
<text x="823.3" y="807">23 Jun 04:00</text>
<rect x="889" y="795" width="1" height="3" fill="#000" shape-rendering="crispEdges"/>
<text x="887.3" y="807">24 Jun 12:00</text>
<rect x="953" y="795" width="1" height="3" fill="#000" shape-rendering="crispEdges"/>
<text x="951.3" y="807">27 Jun 16:00</text>
<rect x="1017" y="795" width="1" height="3" fill="#000" shape-rendering="crispEdges"/>
<text x="1015.3" y="807">29 Jun 00:00</text>
<rect x="1081" y="795" width="1" height="3" fill="#000" shape-rendering="crispEdges"/>
<text x="1079.3" y="807">30 Jun 08:00</text>
<rect x="1145" y="795" width="1" height="3" fill="#000" shape-rendering="crispEdges"/>
<text x="1143.3" y="807">1 Jul 16:00</text>
<rect x="1209" y="795" width="1" height="3" fill="#000" shape-rendering="crispEdges"/>
<text x="1207.3" y="807">4 Jul 22:00</text>
</g>
<g shape-rendering="crispEdges" fill="#000"><rect x="0" y="33" width="3" height="1"/><rect x="0" y="34" width="2" height="1"/><rect x="0" y="35" width="1" height="1"/></g>
<text x="8.5" y="37.5" font-family='"Liberation Sans", sans-serif' font-size="10" fill="#000" textLength="43" lengthAdjust="spacingAndGlyphs">USOil-,H4</text>
<text x="56.6" y="37.5" font-family='"Liberation Sans", sans-serif' font-size="10" fill="#000" textLength="131.5" lengthAdjust="spacingAndGlyphs">99.497 101.161 99.496 100.530</text>
<g shape-rendering="crispEdges" fill="#000"><rect x="1273" y="27" width="9" height="1"/><rect x="1274" y="28" width="7" height="1"/><rect x="1275" y="29" width="5" height="1"/><rect x="1276" y="30" width="3" height="1"/><rect x="1277" y="31" width="1" height="1"/></g>
</svg>
</body></html>
